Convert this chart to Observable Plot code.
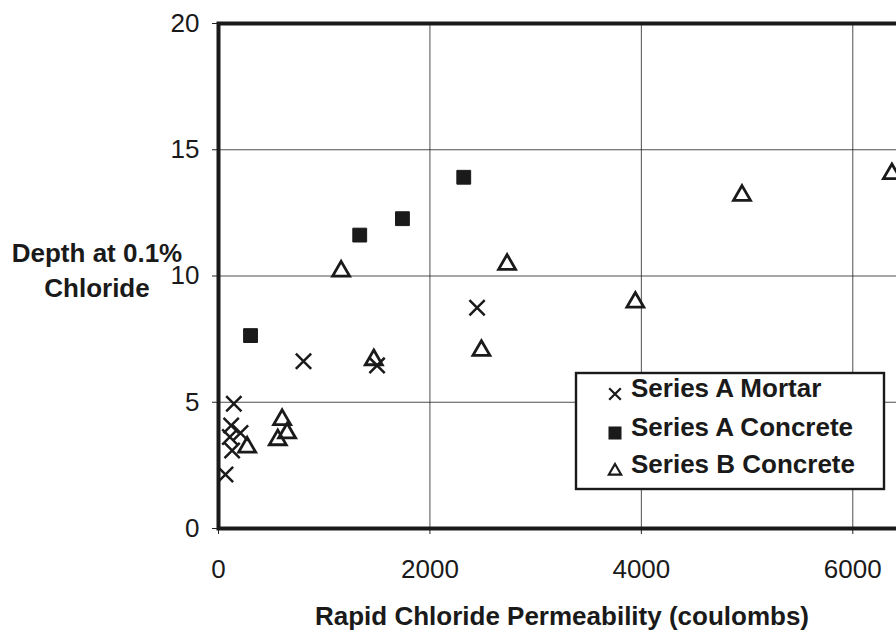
<!DOCTYPE html>
<html>
<head>
<meta charset="utf-8">
<script src="https://cdn.jsdelivr.net/npm/d3@7"></script>
<script src="https://cdn.jsdelivr.net/npm/@observablehq/plot@0.6"></script>
<style>
  html, body { margin: 0; padding: 0; background: #fff; }
  #wrap { width: 896px; height: 630px; overflow: hidden; position: relative; }
  #wrap svg { max-width: none !important; display: block; }
</style>
</head>
<body>
<div id="wrap"></div>
<script>
// Series A Mortar
const mortarX = [66, 145, 120, 208, 107, 129, 804, 1500, 2446];
const mortarY = [2.14, 4.94, 4.08, 3.78, 3.62, 3.09, 6.62, 6.46, 8.74];
// Series A Concrete
const concAX = [303, 1336, 1740, 2320];
const concAY = [7.64, 11.62, 12.27, 13.91];
// Series B Concrete
const concBX = [271, 561, 602, 649, 1160, 1469, 2487, 2730, 3943, 4952, 6370];
const concBY = [3.22, 3.51, 4.31, 3.78, 10.19, 6.68, 7.05, 10.46, 8.96, 13.19, 14.05];

const xTicks = [0, 2000, 4000, 6000];
const yTicks = [0, 5, 10, 15, 20];
const seriesNames = ["Series A Mortar", "Series A Concrete", "Series B Concrete"];
const yTitleLines = ["Depth at 0.1%", "Chloride"];
const xTitle = "Rapid Chloride Permeability (coulombs)";

const mortar = mortarX.map((x, i) => ({x, y: mortarY[i]}));
const concA = concAX.map((x, i) => ({x, y: concAY[i]}));
const concB = concBX.map((x, i) => ({x, y: concBY[i]}));

const mL = 218, mT = 23, mB = 102, mR = 20;
const plotW = 740; // 7000 units
const W = mL + plotW + mR, H = 630;
const FS = 26;

const chart = Plot.plot({
  width: W,
  height: H,
  marginLeft: mL,
  marginTop: mT,
  marginBottom: mB,
  marginRight: mR,
  x: {domain: [0, 7000]},
  y: {domain: [0, 20]},
  style: {fontFamily: '"Liberation Sans", Arial, sans-serif', background: "#fff", maxWidth: "none"},
  marks: [
    Plot.gridX(xTicks, {stroke: "#222", strokeOpacity: 0.8, strokeWidth: 1}),
    Plot.gridY(yTicks, {stroke: "#222", strokeOpacity: 0.8, strokeWidth: 1}),
    Plot.axisX(xTicks, {tickSize: 6, tickPadding: 25, fontSize: FS, label: null, stroke: "#222", fill: "#1a1a1a", tickFormat: d => String(d)}),
    Plot.axisY(yTicks, {tickSize: 6, tickPadding: 13, fontSize: FS, label: null, stroke: "#222", fill: "#1a1a1a"}),
    Plot.frame({stroke: "#1a1a1a", strokeWidth: 4}),
    Plot.dot(concA, {x: "x", y: "y", symbol: "square", r: 7.8, fill: "#1a1a1a", stroke: "#1a1a1a", strokeWidth: 1, strokeLinejoin: "round"}),
    Plot.dot(concB, {x: "x", y: "y", symbol: "triangle", r: 6.3, fill: "none", stroke: "#1a1a1a", strokeWidth: 2.8}),
    Plot.dot(mortar, {x: "x", y: "y", symbol: "times", r: 7, stroke: "#1a1a1a", strokeWidth: 2.5})
  ]
});
chart.style.maxWidth = "none";
document.getElementById("wrap").appendChild(chart);

const svg = d3.select(chart);
// Y axis title
const yt = svg.append("text")
  .attr("text-anchor", "middle")
  .attr("font-weight", "bold")
  .attr("font-size", FS)
  .attr("fill", "#1a1a1a");
yTitleLines.forEach((t, i) => {
  yt.append("tspan").attr("x", 97).attr("y", 262 + i * 35).text(t);
});
// X axis title
svg.append("text")
  .attr("x", 562).attr("y", 625)
  .attr("text-anchor", "middle")
  .attr("font-weight", "bold")
  .attr("font-size", FS)
  .attr("fill", "#1a1a1a")
  .text(xTitle);

// Legend
const lg = svg.append("g");
lg.append("rect")
  .attr("x", 576).attr("y", 373).attr("width", 308).attr("height", 116)
  .attr("fill", "#fff").attr("stroke", "#1a1a1a").attr("stroke-width", 2.4);
const symbols = [d3.symbolTimes, d3.symbolSquare, d3.symbolTriangle];
const rowY = [397, 436, 473];
seriesNames.forEach((name, i) => {
  const g = lg.append("g").attr("transform", `translate(615,${rowY[i] - 3})`);
  if (i === 0) {
    g.append("path").attr("d", d3.symbol(symbols[i], 90)()).attr("fill", "none").attr("stroke", "#1a1a1a").attr("stroke-width", 2.2);
  } else if (i === 1) {
    g.append("path").attr("d", d3.symbol(symbols[i], 170)()).attr("fill", "#1a1a1a");
  } else {
    g.append("path").attr("d", d3.symbol(symbols[i], 65)()).attr("transform", "translate(0,1)").attr("fill", "none").attr("stroke", "#1a1a1a").attr("stroke-width", 2.2);
  }
  lg.append("text")
    .attr("x", 631).attr("y", rowY[i])
    .attr("text-anchor", "start")
    .attr("font-weight", "bold").attr("font-size", FS)
    .attr("fill", "#1a1a1a")
    .text(name);
});
</script>
</body>
</html>
